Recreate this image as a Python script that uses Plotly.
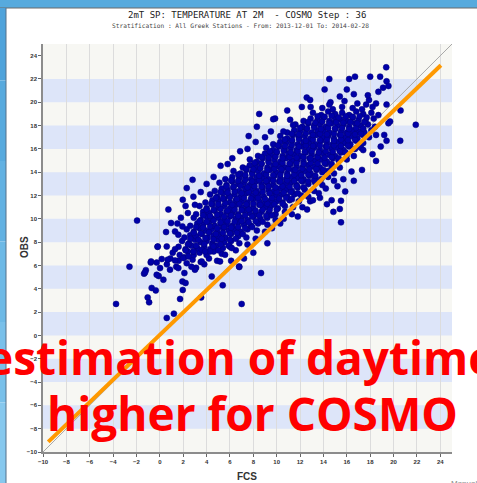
import plotly.graph_objects as go

# ---------------- text ----------------
title = "2mT SP: TEMPERATURE AT 2M  - COSMO Step : 36"
subtitle = "Stratification : All Greek Stations - From: 2013-12-01 To: 2014-02-28"
x_label = "FCS"
y_label = "OBS"
overlay_line1 = "estimation of daytime"
overlay_line2 = "higher for COSMO"
corner_note = "Manual"

# ---------------- axes / bands ----------------
tick_vals = list(range(-10, 25, 2))
axis_range = [-10, 25]
band_lows = [-8, -4, 0, 4, 8, 12, 16, 20]   # blue bands, 2 units tall

# ---------------- lines ----------------
fit_fcs = [-9.55, 24.05]
fit_obs = [-9.13, 23.18]
diag_vals = [-10, 25]

# ---------------- scatter (FCS, OBS) ----------------
pts_core = [
    (0.6,6.1),(1.4,5.9),(2.3,6.2),(3.1,5.8),(3.8,6.1),
    (0.9,6.6),(1.6,6.4),(2.1,6.7),(2.8,6.5),(3.5,6.3),(4.2,6.6),(4.9,6.4),
    (1.1,7.1),(1.7,6.9),(2.4,7.2),(2.9,6.9),(3.4,7.1),(4.0,6.9),(4.6,7.2),(5.3,7.0),
    (1.6,7.6),(2.2,7.4),(2.7,7.7),(3.2,7.5),(3.8,7.6),(4.3,7.4),(4.8,7.7),(5.4,7.5),(6.0,7.6),(6.5,7.3),
    (1.9,8.1),(2.5,7.9),(3.0,8.2),(3.5,8.0),(4.0,8.1),(4.5,7.9),(5.0,8.2),(5.5,8.0),(6.1,8.1),(6.8,7.9),
    (2.1,8.4),(2.6,8.6),(3.1,8.5),(3.6,8.7),(4.1,8.4),(4.6,8.6),(5.1,8.5),(5.6,8.4),(6.1,8.7),(6.7,8.5),(7.4,8.4),
    (2.3,9.1),(2.9,8.9),(3.4,9.2),(3.9,9.0),(4.4,9.1),(4.9,8.9),(5.4,9.2),(5.9,9.0),(6.4,9.1),(6.9,8.9),(7.5,9.1),(8.3,9.0),
    (2.6,9.4),(3.2,9.6),(3.7,9.5),(4.2,9.7),(4.7,9.4),(5.2,9.6),(5.7,9.5),(6.2,9.4),(6.7,9.7),(7.2,9.5),(7.8,9.4),(8.4,9.6),(9.2,9.5),
    (2.9,10.1),(3.5,9.9),(4.0,10.2),(4.5,10.0),(5.0,10.1),(5.5,9.9),(6.0,10.2),(6.5,10.0),(7.0,10.1),(7.5,9.9),(8.0,10.2),(8.6,10.0),(9.2,10.1),(9.9,9.9),
    (3.1,10.4),(3.7,10.6),(4.2,10.5),(4.7,10.7),(5.2,10.4),(5.7,10.6),(6.2,10.5),(6.7,10.4),(7.2,10.7),(7.7,10.5),(8.2,10.4),(8.7,10.6),(9.3,10.5),(9.9,10.4),(10.7,10.6),
    (3.4,11.1),(4.0,10.9),(4.5,11.2),(5.0,11.0),(5.5,11.1),(6.0,10.9),(6.5,11.2),(7.0,11.0),(7.5,11.1),(8.0,10.9),(8.5,11.2),(9.0,11.0),(9.5,11.1),(10.1,10.9),(10.7,11.1),(11.4,11.0),
    (3.9,11.4),(4.5,11.6),(5.0,11.5),(5.5,11.7),(6.0,11.4),(6.5,11.6),(7.0,11.5),(7.5,11.4),(8.0,11.7),(8.5,11.5),(9.0,11.4),(9.5,11.6),(10.0,11.5),(10.5,11.4),(11.1,11.6),(11.9,11.5),
    (4.3,12.1),(4.9,11.9),(5.4,12.2),(5.9,12.0),(6.4,12.1),(6.9,11.9),(7.4,12.2),(7.9,12.0),(8.4,12.1),(8.9,11.9),(9.4,12.2),(9.9,12.0),(10.4,12.1),(10.9,11.9),(11.5,12.1),(12.1,12.0),(12.7,11.9),
    (4.7,12.4),(5.3,12.6),(5.8,12.5),(6.3,12.7),(6.8,12.4),(7.3,12.6),(7.8,12.5),(8.3,12.4),(8.8,12.7),(9.3,12.5),(9.8,12.4),(10.3,12.6),(10.8,12.5),(11.3,12.4),(11.8,12.7),(12.4,12.5),(13.2,12.4),
    (5.1,13.1),(5.7,12.9),(6.2,13.2),(6.7,13.0),(7.2,13.1),(7.7,12.9),(8.2,13.2),(8.7,13.0),(9.2,13.1),(9.7,12.9),(10.2,13.2),(10.7,13.0),(11.2,13.1),(11.7,12.9),(12.2,13.2),(12.7,13.0),(13.3,13.1),(13.9,12.9),
    (5.6,13.4),(6.2,13.6),(6.8,13.5),(7.3,13.7),(7.8,13.4),(8.3,13.6),(8.8,13.5),(9.3,13.4),(9.8,13.7),(10.3,13.5),(10.8,13.4),(11.3,13.6),(11.8,13.5),(12.3,13.4),(12.8,13.7),(13.3,13.5),(13.8,13.4),(14.4,13.6),
    (6.3,14.1),(6.9,13.9),(7.4,14.2),(7.9,14.0),(8.4,14.1),(8.9,13.9),(9.4,14.2),(9.9,14.0),(10.4,14.1),(10.9,13.9),(11.4,14.2),(11.9,14.0),(12.4,14.1),(12.9,13.9),(13.4,14.2),(13.9,14.0),(14.4,14.1),(14.9,13.9),
    (7.1,14.4),(7.7,14.6),(8.2,14.5),(8.7,14.7),(9.2,14.4),(9.7,14.6),(10.2,14.5),(10.7,14.4),(11.2,14.7),(11.7,14.5),(12.2,14.4),(12.7,14.6),(13.2,14.5),(13.7,14.4),(14.2,14.7),(14.7,14.5),(15.4,14.4),
    (7.7,15.1),(8.3,14.9),(8.8,15.2),(9.3,15.0),(9.8,15.1),(10.3,14.9),(10.8,15.2),(11.3,15.0),(11.8,15.1),(12.3,14.9),(12.8,15.2),(13.3,15.0),(13.8,15.1),(14.3,14.9),(14.8,15.2),(15.3,15.0),(16.0,15.1),
    (8.4,15.4),(9.0,15.6),(9.5,15.5),(10.0,15.7),(10.5,15.4),(11.0,15.6),(11.5,15.5),(12.0,15.4),(12.5,15.7),(13.0,15.5),(13.5,15.4),(14.0,15.6),(14.5,15.5),(15.0,15.4),(15.5,15.7),(16.0,15.5),(16.6,15.4),
    (9.1,16.1),(9.7,15.9),(10.2,16.2),(10.7,16.0),(11.2,16.1),(11.7,15.9),(12.2,16.2),(12.7,16.0),(13.2,16.1),(13.7,15.9),(14.2,16.2),(14.7,16.0),(15.2,16.1),(15.7,15.9),(16.2,16.2),(16.7,16.0),(17.2,16.1),
    (9.7,16.4),(10.3,16.6),(10.8,16.5),(11.3,16.7),(11.8,16.4),(12.3,16.6),(12.8,16.5),(13.3,16.4),(13.8,16.7),(14.3,16.5),(14.8,16.4),(15.3,16.6),(15.8,16.5),(16.3,16.4),(16.8,16.7),(17.4,16.5),
    (10.3,17.1),(10.9,16.9),(11.4,17.2),(11.9,17.0),(12.4,17.1),(12.9,16.9),(13.4,17.2),(13.9,17.0),(14.4,17.1),(14.9,16.9),(15.4,17.2),(15.9,17.0),(16.4,17.1),(16.9,16.9),(17.4,17.2),(17.9,17.0),
    (10.9,17.4),(11.5,17.6),(12.0,17.5),(12.5,17.7),(13.0,17.4),(13.5,17.6),(14.0,17.5),(14.5,17.4),(15.0,17.7),(15.5,17.5),(16.0,17.4),(16.5,17.6),(17.0,17.5),(17.5,17.4),(18.1,17.6),
    (11.6,18.1),(12.2,17.9),(12.7,18.2),(13.2,18.0),(13.7,18.1),(14.2,17.9),(14.7,18.2),(15.2,18.0),(15.7,18.1),(16.2,17.9),(16.7,18.2),(17.2,18.0),(17.8,18.1),(18.4,17.9),
    (12.3,18.4),(12.9,18.6),(13.5,18.5),(14.0,18.7),(14.5,18.4),(15.0,18.6),(15.5,18.5),(16.0,18.4),(16.5,18.7),(17.0,18.5),(17.6,18.4),(18.3,18.6),
    (13.1,19.1),(13.8,18.9),(14.4,19.2),(15.0,19.0),(15.6,19.1),(16.2,18.9),(16.8,19.2),(17.4,19.0),(18.1,19.1),(18.7,18.9),
    (13.9,19.5),(14.8,19.4),(15.6,19.6),(16.5,19.5),(17.3,19.4),(18.2,19.6),
    (14.6,20.0),(15.8,20.1),(16.9,19.9),(17.9,20.2),
]

pts_core_fill = [
    (2.2,7.3),(2.9,7.2),(3.6,7.35),(4.3,7.2),(5.0,7.3),
    (2.4,7.8),(3.1,7.7),(3.8,7.85),(4.5,7.75),(5.2,7.8),(5.9,7.7),
    (2.6,8.3),(3.3,8.2),(3.9,8.35),(4.6,8.25),(5.3,8.3),(6.0,8.2),(6.5,8.3),
    (2.9,8.8),(3.5,8.75),(4.2,8.85),(4.8,8.7),(5.4,8.8),(6.0,8.75),(6.6,8.8),(7.1,8.7),
    (3.1,9.3),(3.7,9.25),(4.3,9.35),(4.9,9.2),(5.5,9.3),(6.1,9.25),(6.7,9.3),(7.3,9.2),(7.9,9.3),
    (3.4,9.8),(4.0,9.75),(4.6,9.85),(5.2,9.7),(5.8,9.8),(6.4,9.75),(7.0,9.8),(7.6,9.7),(8.2,9.8),(8.8,9.75),
    (3.7,10.3),(4.3,10.25),(4.9,10.35),(5.5,10.2),(6.1,10.3),(6.7,10.25),(7.3,10.3),(7.9,10.2),(8.5,10.3),(9.1,10.25),(9.6,10.3),
    (4.0,10.8),(4.6,10.75),(5.2,10.85),(5.8,10.7),(6.4,10.8),(7.0,10.75),(7.6,10.8),(8.2,10.7),(8.8,10.8),(9.4,10.75),(10.0,10.8),
    (4.4,11.3),(5.0,11.25),(5.6,11.35),(6.2,11.2),(6.8,11.3),(7.4,11.25),(8.0,11.3),(8.6,11.2),(9.2,11.3),(9.8,11.25),(10.5,11.3),
    (4.8,11.8),(5.4,11.75),(6.0,11.85),(6.6,11.7),(7.2,11.8),(7.8,11.75),(8.4,11.8),(9.0,11.7),(9.6,11.8),(10.2,11.75),(10.8,11.8),(11.3,11.7),
    (5.2,12.3),(5.8,12.25),(6.4,12.35),(7.0,12.2),(7.6,12.3),(8.2,12.25),(8.8,12.3),(9.4,12.2),(10.0,12.3),(10.6,12.25),(11.2,12.3),(11.8,12.2),
    (5.7,12.8),(6.3,12.75),(6.9,12.85),(7.5,12.7),(8.1,12.8),(8.7,12.75),(9.3,12.8),(9.9,12.7),(10.5,12.8),(11.1,12.75),(11.7,12.8),(12.3,12.7),
    (6.1,13.3),(6.7,13.25),(7.3,13.35),(7.9,13.2),(8.5,13.3),(9.1,13.25),(9.7,13.3),(10.3,13.2),(10.9,13.3),(11.5,13.25),(12.1,13.3),(12.7,13.2),(13.2,13.3),
    (6.7,13.8),(7.3,13.75),(7.9,13.85),(8.5,13.7),(9.1,13.8),(9.7,13.75),(10.3,13.8),(10.9,13.7),(11.5,13.8),(12.1,13.75),(12.7,13.8),(13.3,13.7),
    (7.4,14.3),(8.0,14.25),(8.6,14.35),(9.2,14.2),(9.8,14.3),(10.4,14.25),(11.0,14.3),(11.6,14.2),(12.2,14.3),(12.8,14.25),(13.4,14.3),(14.0,14.2),
    (8.1,14.8),(8.7,14.75),(9.3,14.85),(9.9,14.7),(10.5,14.8),(11.1,14.75),(11.7,14.8),(12.3,14.7),(12.9,14.8),(13.5,14.75),(14.1,14.8),(14.7,14.7),
    (8.7,15.3),(9.3,15.25),(9.9,15.35),(10.5,15.2),(11.1,15.3),(11.7,15.25),(12.3,15.3),(12.9,15.2),(13.5,15.3),(14.1,15.25),(14.7,15.3),(15.3,15.2),
    (9.4,15.8),(10.0,15.75),(10.6,15.85),(11.2,15.7),(11.8,15.8),(12.4,15.75),(13.0,15.8),(13.6,15.7),(14.2,15.8),(14.8,15.75),(15.4,15.8),(15.9,15.7),
    (10.1,16.3),(10.7,16.25),(11.3,16.35),(11.9,16.2),(12.5,16.3),(13.1,16.25),(13.7,16.3),(14.3,16.2),(14.9,16.3),(15.5,16.25),(16.1,16.3),
    (10.7,16.8),(11.3,16.75),(11.9,16.85),(12.5,16.7),(13.1,16.8),(13.7,16.75),(14.3,16.8),(14.9,16.7),(15.5,16.8),(16.1,16.75),(16.7,16.8),
    (11.3,17.3),(11.9,17.25),(12.5,17.35),(13.1,17.2),(13.7,17.3),(14.3,17.25),(14.9,17.3),(15.5,17.2),(16.1,17.3),(16.7,17.25),(17.2,17.3),
    (12.0,17.8),(12.6,17.75),(13.2,17.85),(13.8,17.7),(14.4,17.8),(15.0,17.75),(15.6,17.8),(16.2,17.7),(16.8,17.8),(17.4,17.75),
    (12.7,18.3),(13.3,18.25),(13.9,18.35),(14.5,18.2),(15.1,18.3),(15.7,18.25),(16.3,18.3),(16.9,18.2),(17.5,18.3),
    (13.5,18.8),(14.1,18.75),(14.7,18.85),(15.3,18.7),(15.9,18.8),(16.5,18.75),(17.1,18.8),(17.7,18.7),
]

pts_lower_left = [
    (-3.75,2.7),(-2.6,5.9),(-1.35,5.3),(-1.2,5.6),(-0.78,6.25),(-0.27,6.25),(-0.7,4.07),(-0.35,3.86),
    (-1.04,3.26),(-0.92,2.84),(-0.1,5.1),(-1.95,9.85),(-0.2,7.6),(0.73,10.8),(1.96,11.64),(0.96,9.64),
    (0.53,8.87),(1.3,8.92),(1.58,8.64),(1.93,9.35),(-0.18,7.63),(0.59,7.63),(1.3,7.4),(-0.75,6.35),
    (0.16,6.55),(0.67,6.5),(1.3,6.43),(2.0,6.64),(-1.27,5.4),(0.02,5.78),(0.87,5.64),(1.58,5.78),
    (2.1,5.35),(0.3,4.78),(-0.27,5.2),(1.93,4.63),(2.2,4.5),(1.2,1.87),(0.59,1.5),(1.73,3.13),
    (1.96,3.9),(3.53,3.26),(5.38,4.3),(4.44,5.06),(6.8,5.87),(6.1,6.4),(7.0,2.7),(3.0,5.64),
    (2.7,5.9),(2.44,6.78),(3.58,6.35),(2.87,7.2),(3.87,7.2),(4.58,7.63),(5.58,6.92),(6.15,7.5),
    (5.15,6.35),(8.66,5.35),(6.78,5.92),
]

pts_upper = [
    (19.37,23.0),(14.5,22.0),(16.2,22.0),(16.7,22.2),(18.0,22.2),(18.85,22.2),(19.4,21.8),(19.56,21.4),
    (19.1,21.25),(14.1,21.1),(16.0,21.1),(12.57,20.4),(12.86,20.2),(12.15,19.6),(12.9,19.6),(10.9,19.3),
    (8.5,19.0),(8.3,17.9),(9.86,18.6),(11.15,18.5),(14.5,19.8),(15.4,20.5),(16.6,20.7),(17.8,20.6),
    (17.65,19.8),(18.7,20.9),(18.5,19.9),(19.4,19.8),(9.7,18.55),(9.5,17.5),(10.57,17.5),(11.4,18.06),
    (2.3,12.64),(2.8,13.35),(2.87,11.9),(5.2,14.55),(6.87,15.8),(4.0,13.0),(3.5,12.3),(4.6,13.6),
    (5.8,14.7),(7.5,16.0),(6.2,15.2),(8.2,16.6),(7.6,17.1),(9.0,17.0),(3.0,11.2),(2.4,10.5),
    (1.8,10.1),(2.2,11.1),(1.5,9.6),
]

pts_right = [
    (20.6,19.3),(19.7,18.35),(21.9,18.07),(19.2,17.2),(19.4,16.7),(20.57,16.7),(18.5,17.2),(18.2,15.55),
    (18.5,14.97),(17.4,15.9),(17.3,14.2),(16.4,14.06),(16.6,13.26),(15.7,13.4),(15.86,12.35),(14.9,13.26),
    (15.2,12.8),(14.7,11.6),(15.5,11.55),(13.7,11.8),(14.85,10.6),(15.4,10.85),(14.3,11.26),(15.5,9.7),
    (12.86,11.5),(7.5,7.8),(8.2,8.3),(9.0,8.9),(8.0,7.1),(9.6,9.2),(10.3,9.6),(7.2,6.6),(9.2,7.9),
    (10.6,10.0),(11.3,10.4),(12.2,11.0),(11.8,10.2),(13.1,11.6),(12.6,10.8),(13.6,12.2),(14.2,12.6),
    (19.56,18.2),(18.9,16.2),
]

all_pts = pts_core + pts_core_fill + pts_lower_left + pts_upper + pts_right
fcs_vals = [p[0] for p in all_pts]
obs_vals = [p[1] for p in all_pts]

# ---------------- geometry helpers (figure pixels -> paper) ----------------
W, H = 477, 483
ML, MR, MT, MB = 43, 25, 44, 31
PW, PH = W - ML - MR, H - MT - MB


def px(xpix):
    return (xpix - ML) / PW


def py(ypix):
    return (H - MB - ypix) / PH


fig = go.Figure()

fig.add_trace(go.Scatter(
    x=diag_vals, y=diag_vals, mode="lines",
    line=dict(color="#a8a8a8", width=1), hoverinfo="skip", showlegend=False))

fig.add_trace(go.Scatter(
    x=fcs_vals, y=obs_vals, mode="markers",
    marker=dict(size=6, color="#0000a8", line=dict(color="#000078", width=0.5)),
    showlegend=False))

fig.add_trace(go.Scatter(
    x=fit_fcs, y=fit_obs, mode="lines",
    line=dict(color="#ff9900", width=4), hoverinfo="skip", showlegend=False))

shapes = []
for lo in band_lows:
    shapes.append(dict(type="rect", xref="paper", yref="y", x0=0, x1=1, y0=lo, y1=lo + 2,
                       fillcolor="#dde5f9", line=dict(width=0), layer="below"))

# slide frame: top strip and left strip
shapes.append(dict(type="rect", xref="paper", yref="paper", x0=px(0), x1=px(W), y0=py(8), y1=py(0),
                   fillcolor="#57aadd", line=dict(width=0), layer="above"))
shapes.append(dict(type="line", xref="paper", yref="paper", x0=px(0), x1=px(W), y0=py(8), y1=py(8),
                   line=dict(color="#6b6b6b", width=1), layer="above"))
left_cols = ["#4fa3db", "#58aade", "#62b1e2", "#6db9e6", "#79c0ea", "#86c8ee"]
seg = H / len(left_cols)
for i, c in enumerate(left_cols):
    shapes.append(dict(type="rect", xref="paper", yref="paper", x0=px(0), x1=px(6),
                       y0=py(min(H, (i + 1) * seg)), y1=py(max(8, i * seg)),
                       fillcolor=c, line=dict(width=0), layer="above"))
shapes.append(dict(type="line", xref="paper", yref="paper", x0=px(6), x1=px(6), y0=py(H), y1=py(8),
                   line=dict(color="#55708a", width=1), layer="above"))

annotations = [
    dict(text=title, x=px(247), y=py(15), xref="paper", yref="paper", showarrow=False,
         font=dict(family="DejaVu Sans Mono", size=9, color="#222222"), xanchor="center", yanchor="middle"),
    dict(text=subtitle, x=px(240), y=py(25.5), xref="paper", yref="paper", showarrow=False,
         font=dict(family="DejaVu Sans Mono", size=6.2, color="#444444"), xanchor="center", yanchor="middle"),
    dict(text=y_label, x=px(24), y=py(247), xref="paper", yref="paper", showarrow=False, textangle=-90,
         font=dict(family="Liberation Sans", size=10, color="#333333", weight="bold"),
         xanchor="center", yanchor="middle"),
    dict(text=x_label, x=px(247), y=py(476), xref="paper", yref="paper", showarrow=False,
         font=dict(family="Liberation Sans", size=10, color="#333333", weight="bold"),
         xanchor="center", yanchor="middle"),
    dict(text=corner_note, x=px(449), y=py(477), xref="paper", yref="paper", showarrow=False,
         font=dict(family="Liberation Sans", size=8, color="#888888"), xanchor="left", yanchor="top"),
    dict(text=overlay_line1, x=px(240), y=py(357), xref="paper", yref="paper", showarrow=False,
         font=dict(family="Open Sans", size=46, color="#ff0000", weight="bold"),
         xanchor="center", yanchor="middle"),
    dict(text=overlay_line2, x=px(252), y=py(413), xref="paper", yref="paper", showarrow=False,
         font=dict(family="Open Sans", size=46, color="#ff0000", weight="bold"),
         xanchor="center", yanchor="middle"),
]

tickfont = dict(family="Liberation Sans", size=6, color="#333333", weight="bold")

fig.update_layout(
    width=W, height=H,
    margin=dict(l=ML, r=MR, t=MT, b=MB, pad=0),
    paper_bgcolor="#ffffff",
    plot_bgcolor="#f7f7f3",
    shapes=shapes,
    annotations=annotations,
    showlegend=False,
    xaxis=dict(range=axis_range, tickvals=tick_vals, showgrid=True, gridcolor="#dcdcdc", gridwidth=1,
               zeroline=False, showline=True, linecolor="#8c8c8c", linewidth=1.5,
               ticks="outside", ticklen=3, tickcolor="#666666", tickfont=tickfont, fixedrange=True),
    yaxis=dict(range=axis_range, tickvals=tick_vals, showgrid=False,
               zeroline=False, showline=True, linecolor="#8c8c8c", linewidth=1.5,
               ticks="outside", ticklen=3, tickcolor="#666666", tickfont=tickfont, fixedrange=True),
)

fig.write_html("out.html", config={"displayModeBar": False})
